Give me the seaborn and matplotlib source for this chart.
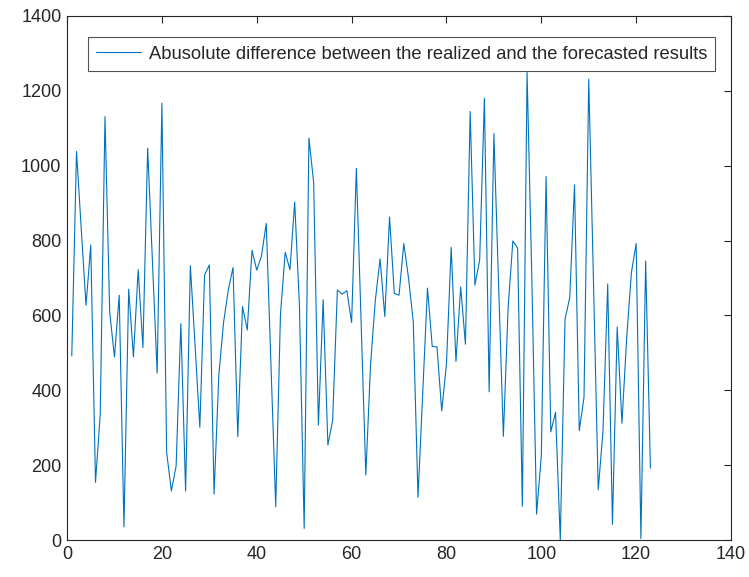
import numpy as np
import pandas as pd
import matplotlib
matplotlib.use("Agg")
import matplotlib.pyplot as plt
import seaborn as sns

# Absolute difference between realized and forecasted results, per sample
abs_diff = [
    492, 1038, 830, 627, 788, 154, 336, 1131, 608, 489,
    654, 35, 670, 489, 722, 514, 1047, 746, 446, 1167,
    234, 131, 198, 578, 131, 733, 519, 301, 708, 735,
    123, 440, 581, 668, 728, 276, 624, 561, 774, 721,
    759, 846, 467, 89, 603, 769, 722, 903, 626, 31,
    1074, 955, 307, 642, 254, 319, 668, 657, 666, 581,
    993, 584, 174, 470, 640, 751, 597, 863, 659, 654,
    792, 700, 584, 114, 394, 673, 517, 516, 345, 470,
    782, 477, 676, 523, 1145, 681, 748, 1180, 396, 1086,
    680, 277, 620, 799, 780, 90, 1249, 700, 69, 225,
    971, 289, 341, 0, 590, 648, 949, 292, 381, 1231,
    690, 134, 290, 684, 42, 569, 312, 540, 715, 792,
    4, 745, 192,
]
sample_idx = list(range(1, len(abs_diff) + 1))
legend_label = "Abusolute difference between the realized and the forecasted results"

df = pd.DataFrame({"sample": sample_idx, "diff": abs_diff})

sns.set_style("white")
plt.rcParams["font.family"] = ["Liberation Sans", "DejaVu Sans"]

fig = plt.figure(figsize=(7.49, 5.77), dpi=100)
ax = fig.add_axes([0.0895, 0.0641, 0.8865, 0.9082])

sns.lineplot(data=df, x="sample", y="diff", ax=ax, color="#0072BD",
             linewidth=0.8, label=legend_label)

ax.set_xlim(0, 140)
ax.set_ylim(0, 1400)
ax.set_xticks(np.arange(0, 141, 20))
ax.set_yticks(np.arange(0, 1401, 200))
ax.set_xlabel("")
ax.set_ylabel("")

axis_color = "#262626"
for side in ["top", "right", "bottom", "left"]:
    ax.spines[side].set_visible(True)
    ax.spines[side].set_color(axis_color)
    ax.spines[side].set_linewidth(0.8)
ax.tick_params(axis="both", direction="in", length=5, width=0.8,
               colors=axis_color, labelsize=13, top=True, right=True,
               labelcolor="#262626", pad=4)

leg = ax.legend(loc="upper left", bbox_to_anchor=(0.0316, 0.959),
                fontsize=13.2, frameon=True, fancybox=False,
                handlelength=2.45, handletextpad=0.4, borderpad=0.45,
                borderaxespad=0.0)
leg.get_frame().set_edgecolor(axis_color)
leg.get_frame().set_linewidth(0.8)

fig.savefig("out.png", dpi=100)
